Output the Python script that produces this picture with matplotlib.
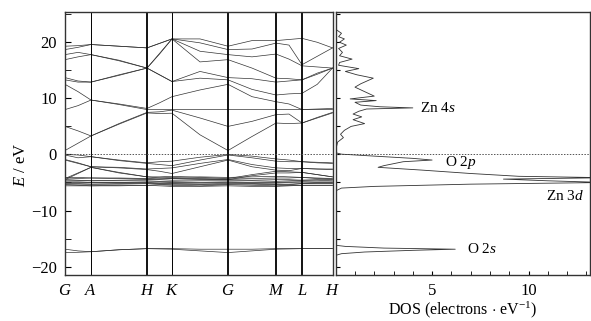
import matplotlib
matplotlib.use("Agg")
import matplotlib.pyplot as plt
from matplotlib.ticker import MultipleLocator

plt.rcParams['font.family'] = ['Liberation Serif', 'DejaVu Serif']
plt.rcParams['mathtext.fontset'] = 'custom'
plt.rcParams['mathtext.rm'] = 'Liberation Serif'
plt.rcParams['mathtext.it'] = 'Liberation Serif:italic'

# high-symmetry path (distance along path, px-like units)
k_labels = ['G', 'A', 'H', 'K', 'G', 'M', 'L', 'H']
k_sym = [0, 26, 82, 107, 163, 211, 237, 267.5]
thick_lines = [False, False, True, False, True, True, True, True]

# band energies (eV) sampled at each symmetry point and half way between
# order: G, GA, A, AH, H, HK, K, KG, G, GM, M, ML, L, LH, H
cond_bands = [
    [0.7, 2.0, 3.3, 5.4, 7.4, 7.3, 7.35, 3.5, 0.7, 3.2, 5.6, 5.5, 5.6, 6.5, 7.4],
    [5.0, 4.2, 3.3, 5.5, 7.5, 7.6, 7.9, 6.5, 5.0, 5.9, 7.1, 7.2, 5.6, 6.6, 7.5],
    [8.0, 8.7, 9.7, 8.9, 8.0, 8.0, 8.0, 8.0, 8.0, 8.0, 8.0, 8.0, 8.0, 8.0, 8.0],
    [12.5, 11.2, 9.7, 9.0, 8.2, 9.2, 10.3, 11.5, 12.5, 10.3, 9.4, 9.0, 8.0, 8.1, 8.2],
    [13.3, 12.9, 12.9, 14.1, 15.4, 14.2, 13.0, 13.6, 13.3, 11.6, 10.6, 10.8, 10.9, 12.5, 15.4],
    [13.7, 13.1, 12.9, 14.2, 15.4, 14.2, 13.0, 14.8, 13.7, 13.5, 12.9, 13.1, 13.3, 14.3, 15.4],
    [16.9, 17.4, 17.8, 16.7, 15.4, 17.9, 20.6, 16.5, 16.9, 15.4, 13.6, 13.5, 13.3, 14.5, 15.4],
    [17.8, 18.2, 17.8, 16.8, 15.4, 18.0, 20.6, 18.4, 17.8, 17.4, 17.9, 17.0, 15.8, 15.6, 15.4],
    [18.7, 19.1, 19.6, 19.3, 19.0, 19.8, 20.6, 19.9, 18.7, 18.8, 19.85, 19.5, 16.0, 17.5, 19.0],
    [19.3, 19.4, 19.6, 19.3, 19.0, 19.8, 20.6, 20.6, 19.3, 20.3, 20.3, 20.5, 20.7, 20.0, 19.0],
]
o2p_bands = [
    [0.0, -0.1, -0.4, -1.0, -1.5, -1.3, -1.2, -0.5, 0.0, -0.3, -0.8, -1.0, -1.3, -1.4, -1.5],
    [-0.1, -0.6, -0.4, -1.1, -1.6, -1.8, -2.0, -1.0, -0.1, -0.6, -1.2, -1.3, -1.3, -1.5, -1.6],
    [-0.9, -1.5, -2.2, -2.3, -2.6, -2.5, -2.4, -1.6, -0.9, -1.8, -2.4, -2.5, -2.5, -2.6, -2.6],
    [-1.0, -1.6, -2.2, -2.4, -2.7, -3.0, -3.4, -2.2, -1.0, -2.2, -2.8, -2.9, -2.5, -2.6, -2.7],
    [-4.3, -3.3, -2.3, -3.2, -4.0, -4.0, -3.9, -4.1, -4.3, -3.6, -3.0, -3.1, -3.2, -3.6, -4.0],
    [-4.5, -3.4, -2.3, -3.3, -4.0, -4.2, -4.3, -4.4, -4.5, -3.8, -3.3, -3.3, -3.2, -3.6, -4.0],
]
zn3d_bands = [
    [-4.1, -4.1, -4.2, -4.2, -4.3, -4.2, -4.1, -4.0, -4.1, -4.0, -3.9, -4.0, -4.1, -4.2, -4.3],
    [-4.4, -4.3, -4.2, -4.3, -4.4, -4.4, -4.3, -4.3, -4.4, -4.3, -4.2, -4.2, -4.1, -4.3, -4.4],
    [-4.5, -4.6, -4.7, -4.6, -4.5, -4.5, -4.6, -4.5, -4.5, -4.6, -4.5, -4.5, -4.6, -4.5, -4.5],
    [-4.7, -4.7, -4.7, -4.7, -4.7, -4.8, -4.8, -4.7, -4.7, -4.7, -4.8, -4.7, -4.6, -4.6, -4.7],
    [-4.9, -4.9, -5.0, -5.0, -4.9, -4.9, -5.0, -5.0, -4.9, -5.0, -5.0, -4.9, -4.9, -4.9, -4.9],
    [-5.0, -5.0, -5.0, -5.0, -5.0, -5.1, -5.1, -5.1, -5.0, -5.1, -5.1, -5.0, -4.9, -5.0, -5.0],
    [-5.15, -5.2, -5.3, -5.2, -5.1, -5.2, -5.2, -5.3, -5.15, -5.2, -5.3, -5.3, -5.2, -5.1, -5.1],
    [-5.3, -5.3, -5.3, -5.3, -5.2, -5.3, -5.4, -5.4, -5.3, -5.3, -5.4, -5.4, -5.2, -5.2, -5.2],
    [-5.4, -5.5, -5.6, -5.5, -5.5, -5.4, -5.5, -5.6, -5.4, -5.5, -5.6, -5.5, -5.5, -5.5, -5.5],
    [-5.6, -5.6, -5.6, -5.6, -5.5, -5.6, -5.7, -5.7, -5.6, -5.7, -5.7, -5.6, -5.5, -5.5, -5.5],
]
o2s_bands = [
    [-16.9, -17.2, -17.35, -17.0, -16.8, -16.8, -16.8, -16.9, -16.9, -16.9, -16.8, -16.8, -16.8, -16.8, -16.8],
    [-17.5, -17.45, -17.35, -17.0, -16.8, -16.85, -16.9, -17.2, -17.5, -17.2, -16.9, -16.85, -16.8, -16.8, -16.8],
]

# total DOS (electrons/eV) vs energy (eV)
dos_E = [22.2, 21.6, 21.0, 20.6, 20.0, 19.5, 18.9, 18.2, 17.6, 17.0, 16.4, 15.9,
         15.3, 14.8, 14.2, 13.6, 12.6, 12.0, 11.2, 10.4, 9.9, 9.6, 9.3, 8.8, 8.5,
         8.3, 8.1, 7.7, 7.2, 6.7, 6.2, 5.5, 5.0, 4.3, 3.6, 3.0, 2.2, 1.5, 0.8,
         0.3, 0.05, -0.3, -0.7, -1.0, -1.3, -2.0, -2.3, -2.8, -3.4, -3.9, -4.15,
         -4.4, -4.7, -5.0, -5.3, -5.7, -6.0, -6.5, -16.2, -16.4, -16.7, -16.9,
         -17.1, -17.4, -17.7, -18.0, -21.5]
dos_val = [0.05, 0.3, 0.15, 0.45, 0.2, 0.55, 0.15, 0.35, 0.2, 0.85, 0.2, 0.15,
           1.2, 0.5, 1.1, 1.95, 1.3, 1.0, 1.5, 2.0, 0.75, 2.1, 1.0, 1.3, 2.3,
           4.0, 1.6, 1.2, 0.9, 1.35, 0.9, 1.5, 0.8, 0.45, 0.25, 0.4, 0.1, 0.05, 0.0,
           0.0, 0.3, 2.0, 4.0, 5.0, 3.5, 2.5, 2.2, 4.5, 7.0, 9.5, 14.0,
           8.7, 11.0, 14.0, 7.0, 2.0, 0.3, 0.0, 0.0, 0.5, 2.5, 6.2,
           4.0, 1.5, 0.3, 0.0, 0.0]

peak_labels = ['Zn 4$s$', 'O 2$p$', 'Zn 3$d$', 'O 2$s$']
peak_label_x = [4.35, 5.65, 12.9, 6.8]
peak_label_E = [8.3, -1.5, -7.4, -16.9]
peak_label_ha = ['left', 'left', 'right', 'left']

# sample positions: every symmetry point plus the half-way point of each segment
k_path = []
for i in range(len(k_sym) - 1):
    k_path += [k_sym[i], (k_sym[i] + k_sym[i + 1]) / 2]
k_path.append(k_sym[-1])

ylim = (-21.5, 25.4)
W, H = 591, 321
fig = plt.figure(figsize=(W / 100, H / 100), dpi=100)
ax1 = fig.add_axes([65 / W, 46 / H, 267.5 / W, 263 / H])
ax2 = fig.add_axes([335.7 / W, 46 / H, 254.5 / W, 263 / H])

line_kw = dict(color='#333333', lw=0.5)
for group in (cond_bands, o2p_bands, zn3d_bands, o2s_bands):
    for band in group:
        ax1.plot(k_path, band, **line_kw)

for k, thick in zip(k_sym[1:-1], thick_lines[1:-1]):
    ax1.axvline(k, color='black', lw=1.3 if thick else 0.7)

for ax in (ax1, ax2):
    ax.axhline(0, color='#555555', lw=0.7, ls=(0, (1.5, 1.5)))
    ax.set_ylim(*ylim)
    for sp in ax.spines.values():
        sp.set_linewidth(1.0)
        sp.set_color('#333333')

ax1.set_xlim(k_sym[0], k_sym[-1])
ax1.set_xticks(k_sym)
ax1.set_xticklabels(['$%s$' % s for s in k_labels], fontsize=12)
ax1.tick_params(axis='x', length=0, pad=6)
ax1.yaxis.set_major_locator(MultipleLocator(10))
ax1.yaxis.set_minor_locator(MultipleLocator(5))
ax1.tick_params(axis='y', which='both', direction='in', length=4, labelsize=12, pad=6)
ax1.set_ylabel('$E$ / eV', fontsize=12, labelpad=2)
ax1.yaxis.set_label_coords(-0.135, 0.42)

ax2.plot(dos_val, dos_E, color='#333333', lw=0.6)
ax2.set_xlim(0, 13.2)
ax2.xaxis.set_major_locator(MultipleLocator(5))
ax2.xaxis.set_minor_locator(MultipleLocator(1))
ax2.yaxis.set_major_locator(MultipleLocator(5))
ax2.tick_params(axis='both', which='both', direction='in', length=3, labelsize=12)
ax2.tick_params(axis='x', pad=6)
ax2.tick_params(axis='y', labelleft=False)
ax2.set_xticks([5, 10])
ax2.set_xlabel('DOS (electrons $\\cdot$ eV$^{-1}$)', fontsize=11.5, labelpad=0)

for txt, x, e, ha in zip(peak_labels, peak_label_x, peak_label_E, peak_label_ha):
    ax2.text(x, e, txt, fontsize=11, ha=ha, va='center')

fig.savefig('out.png', dpi=100)
